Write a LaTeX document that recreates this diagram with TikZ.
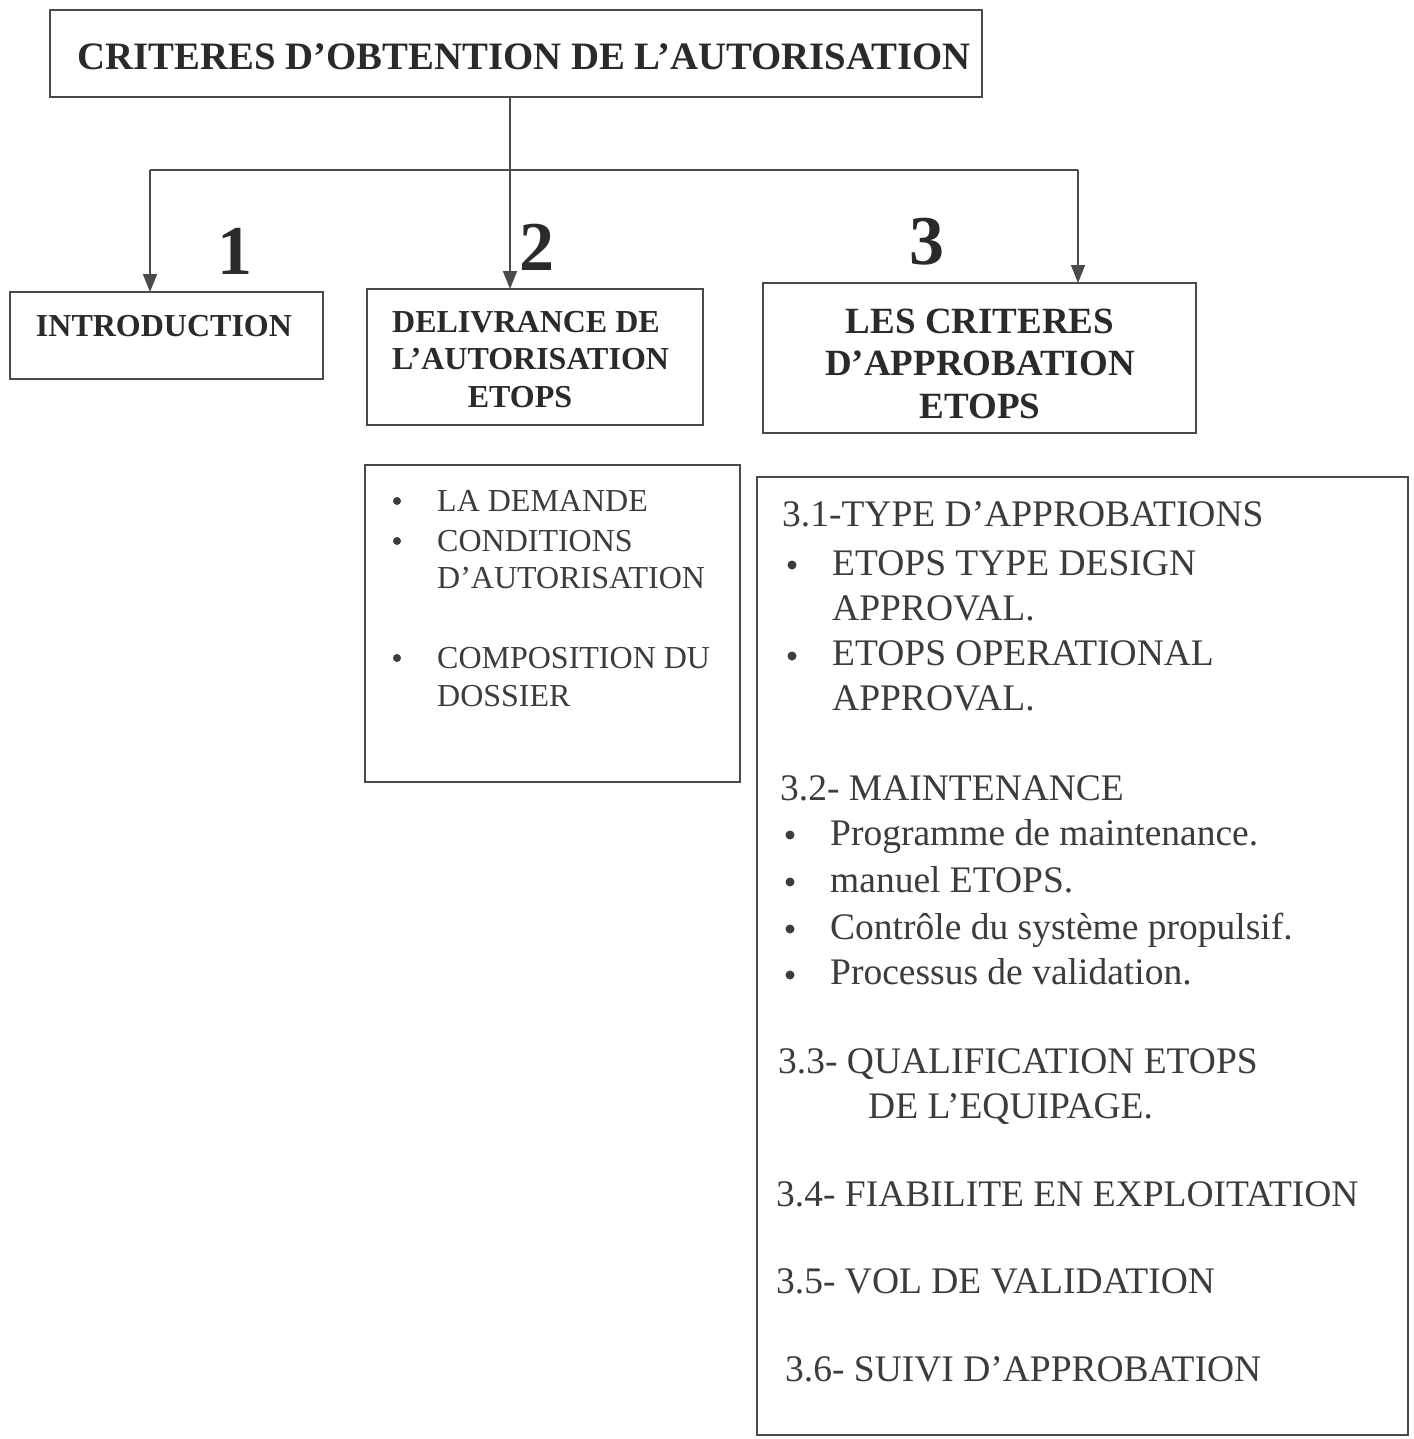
\documentclass[tikz,border=0pt]{standalone}
\usepackage{fontspec}
\setmainfont{Liberation Serif}
\usetikzlibrary{arrows.meta}
\definecolor{linecol}{HTML}{4A4A4A}
\definecolor{txtdark}{HTML}{2A2A2A}
\definecolor{txtlight}{HTML}{3C3C3C}
\begin{document}
\begin{tikzpicture}[x=1pt,y=-1pt,
  box/.style={draw=linecol, line width=1.8pt, inner sep=0pt, outer sep=0pt},
  conn/.style={draw=linecol, line width=1.6pt},
  arr/.style={conn, -{Triangle[width=14pt,length=18pt]}},
  titletxt/.style={text=txtdark, font=\fontsize{38.8}{38.8}\selectfont\bfseries, inner sep=0pt, anchor=base},
  hdc/.style={text=txtdark, font=\fontsize{32}{32}\selectfont\bfseries, inner sep=0pt, anchor=base},
  hdl/.style={text=txtdark, font=\fontsize{32}{32}\selectfont\bfseries, inner sep=0pt, anchor=base west},
  hdbig/.style={text=txtdark, font=\fontsize{37}{37}\selectfont\bfseries, inner sep=0pt, anchor=base},
  numtxt/.style={text=txtdark, font=\fontsize{70}{70}\selectfont\bfseries, inner sep=0pt, anchor=base},
  listA/.style={text=txtlight, font=\fontsize{32}{32}\selectfont, inner sep=0pt, anchor=base west},
  listB/.style={text=txtlight, font=\fontsize{37.5}{37.5}\selectfont, inner sep=0pt, anchor=base west},
  bul/.style={fill=txtlight}
]
\fill[white] (0,0) rectangle (1413,1439);
\useasboundingbox (0,0) rectangle (1413,1439);

% boxes
\node[box, minimum width=932pt, minimum height=87pt] (title) at (516,53.5) {};
\node[box, minimum width=313pt, minimum height=87pt] (intro) at (166.5,335.5) {};
\node[box, minimum width=336pt, minimum height=136pt] (deliv) at (535,357) {};
\node[box, minimum width=433pt, minimum height=150pt] (crit) at (979.5,358) {};
\node[box, minimum width=375pt, minimum height=317pt] (delivlist) at (552.5,623.5) {};
\node[box, minimum width=651pt, minimum height=958pt] (critlist) at (1082.5,956) {};

% connectors
\coordinate (barL) at (150,170);
\coordinate (barR) at (1078,170);
\draw[arr] (title.south -| 510,0) -- (deliv.north -| 510,0);
\draw[conn] (barL) -- (barR);
\draw[arr] (barL) -- (barL |- intro.north);
\draw[arr] (barR) -- (barR |- crit.north);

% numbers
\node[numtxt] (n1) at (235,274) {1};
\node[numtxt] (n2) at (537,270) {2};
\node[numtxt] (n3) at (927,265) {3};

% texts
\node[titletxt] (titleT) at (524,70) {CRITERES D’OBTENTION DE L’AUTORISATION};
\node[hdc] (introT) at (164,336) {INTRODUCTION};
\node[hdl] (delivT1) at (392,332) {DELIVRANCE DE};
\node[hdl] (delivT2) at (392,369) {L’AUTORISATION};
\node[hdc] (delivT3) at (520,407) {ETOPS};
\node[hdbig] (critT1) at (980,333) {LES CRITERES};
\node[hdbig] (critT2) at (980,375) {D’APPROBATION};
\node[hdbig] (critT3) at (980,418) {ETOPS};

% list under box 2
\fill[bul] (397,501) circle (4);
\fill[bul] (397,541) circle (4);
\fill[bul] (397,658) circle (4);
\node[listA] (dl1) at (437,511) {LA DEMANDE};
\node[listA] (dl2) at (437,551) {CONDITIONS};
\node[listA] (dl3) at (437,588) {D’AUTORISATION};
\node[listA] (dl4) at (437,668) {COMPOSITION DU};
\node[listA] (dl5) at (437,706) {DOSSIER};

% list under box 3
\node[listB] (c1) at (782,526) {3.1-TYPE D’APPROBATIONS};
\fill[bul] (792,565) circle (4.5);
\node[listB] (c2) at (832,575) {ETOPS TYPE DESIGN};
\node[listB] (c3) at (832,620) {APPROVAL.};
\fill[bul] (792,656) circle (4.5);
\node[listB] (c4) at (832,665) {ETOPS OPERATIONAL};
\node[listB] (c5) at (832,710) {APPROVAL.};
\node[listB] (c6) at (780,800) {3.2- MAINTENANCE};
\fill[bul] (790,835) circle (4.5);
\node[listB] (c7) at (830,845) {Programme de maintenance.};
\fill[bul] (790,882) circle (4.5);
\node[listB] (c8) at (830,892) {manuel ETOPS.};
\fill[bul] (790,929) circle (4.5);
\node[listB] (c9) at (830,939) {Contrôle du système propulsif.};
\fill[bul] (790,975) circle (4.5);
\node[listB] (c10) at (830,984) {Processus de validation.};
\node[listB] (c11) at (778,1073) {3.3- QUALIFICATION ETOPS};
\node[listB] (c12) at (868,1118) {DE L’EQUIPAGE.};
\node[listB] (c13) at (776,1206) {3.4- FIABILITE EN EXPLOITATION};
\node[listB] (c14) at (776,1293) {3.5- VOL DE VALIDATION};
\node[listB] (c15) at (785,1381) {3.6- SUIVI D’APPROBATION};
\end{tikzpicture}
\end{document}
